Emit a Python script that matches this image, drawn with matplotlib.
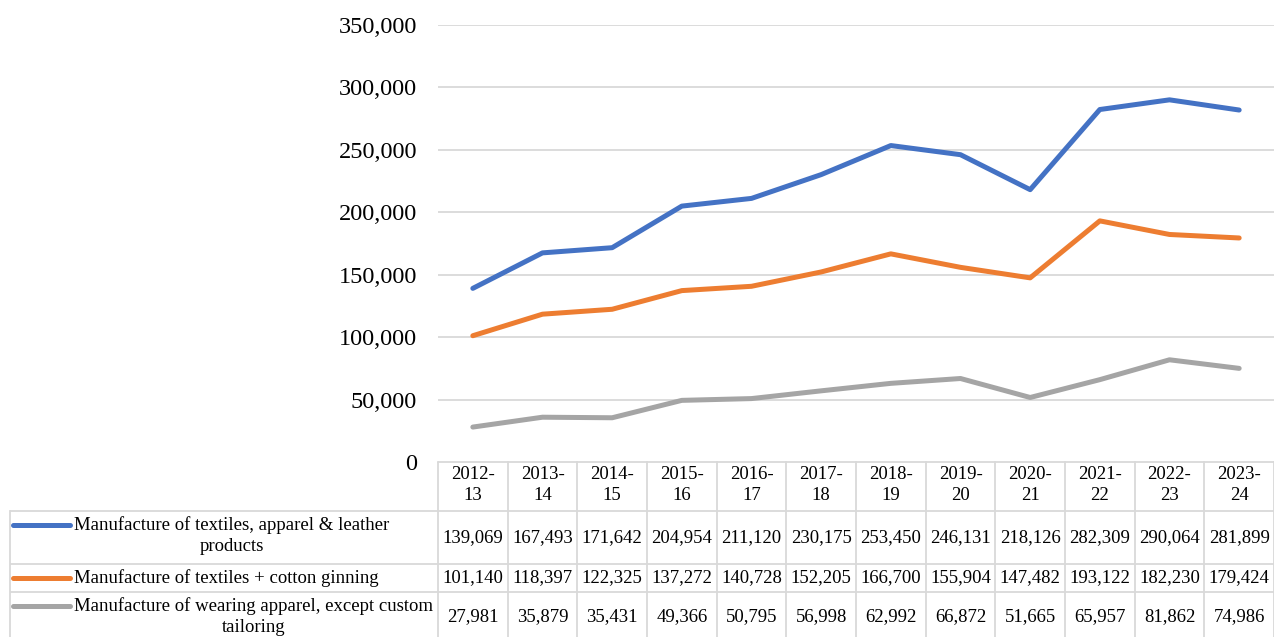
import matplotlib.pyplot as plt
from matplotlib.ticker import FuncFormatter

plt.rcParams['font.family'] = ['Liberation Serif', 'DejaVu Serif']

years = ['2012-\n13', '2013-\n14', '2014-\n15', '2015-\n16', '2016-\n17', '2017-\n18',
         '2018-\n19', '2019-\n20', '2020-\n21', '2021-\n22', '2022-\n23', '2023-\n24']
textiles_apparel_leather = [139069, 167493, 171642, 204954, 211120, 230175,
                            253450, 246131, 218126, 282309, 290064, 281899]
textiles_cotton = [101140, 118397, 122325, 137272, 140728, 152205,
                   166700, 155904, 147482, 193122, 182230, 179424]
wearing_apparel = [27981, 35879, 35431, 49366, 50795, 56998,
                   62992, 66872, 51665, 65957, 81862, 74986]
series_names = ['Manufacture of textiles, apparel & leather\nproducts',
                'Manufacture of textiles + cotton ginning',
                'Manufacture of wearing apparel, except custom\ntailoring']
colors = ['#4472C4', '#ED7D31', '#A5A5A5']
series = [textiles_apparel_leather, textiles_cotton, wearing_apparel]

W, H = 1274, 637
fig = plt.figure(figsize=(W / 100, H / 100), dpi=100)

# chart area (pixel based layout)
x0, x1 = 438, 1274
y_top, y_zero = 25, 462
ax = fig.add_axes([x0 / W, (H - y_zero) / H, (x1 - x0) / W, (y_zero - y_top) / H])
n = len(years)
xs = list(range(n))
for vals, c in zip(series, colors):
    ax.plot(xs, vals, color=c, lw=3.6, solid_capstyle='round', solid_joinstyle='round')
ax.set_xlim(-0.5, n - 0.5)
ax.set_ylim(0, 350000)
ax.set_yticks(range(0, 350001, 50000))
ax.yaxis.set_major_formatter(FuncFormatter(lambda v, p: f'{int(v):,}'))
ax.tick_params(axis='y', length=0, pad=15, labelsize=17.5)
ax.set_xticks([])
ax.grid(axis='y', color='#D9D9D9', lw=1.3)
for s in ax.spines.values():
    s.set_visible(False)
ax.set_axisbelow(True)

# data table below the chart
unit = (x1 - x0) / n
tx0 = 10
tab = fig.add_axes([tx0 / W, 0, (x1 - tx0) / W, (H - y_zero) / H])
tab.set_xlim(-0.5 - (x0 - tx0) / unit, n - 0.5)
tab.set_ylim(H - y_zero, 0)
tab.axis('off')
gc = '#D9D9D9'
lw = 1.3
fs = 13.5
left = -0.5 - (x0 - tx0) / unit
rows = [(49, 102), (102, 130), (130, 180)]
# vertical lines of data columns
for i in range(n + 1):
    tab.plot([i - 0.5, i - 0.5], [0, 180], color=gc, lw=lw, clip_on=False)
tab.plot([-0.5, n - 0.5], [0, 0], color=gc, lw=lw)
for top, bot in rows:
    tab.plot([left, n - 0.5], [top, top], color=gc, lw=lw)
tab.plot([left, left], [49, 180], color=gc, lw=lw, clip_on=False)

for i, y in enumerate(years):
    tab.text(i, 23, y, ha='center', va='center', fontsize=fs, linespacing=1.3)

key_x0 = left + 3 / unit
key_x1 = left + 60 / unit
txt_x = left + 64 / unit
for (top, bot), name, c, vals in zip(rows, series_names, colors, series):
    mid = (top + bot) / 2
    multi = '\n' in name
    ky = top + 14 if multi else mid
    tab.plot([key_x0, key_x1], [ky, ky], color=c, lw=3.6, solid_capstyle='round')
    tab.text(txt_x, ky - 9, name, ha='left', va='top', fontsize=fs,
             multialignment='center', linespacing=1.32)
    for i, v in enumerate(vals):
        tab.text(i, mid, f'{v:,}', ha='center', va='center', fontsize=fs)

fig.savefig('out.png', dpi=100)
